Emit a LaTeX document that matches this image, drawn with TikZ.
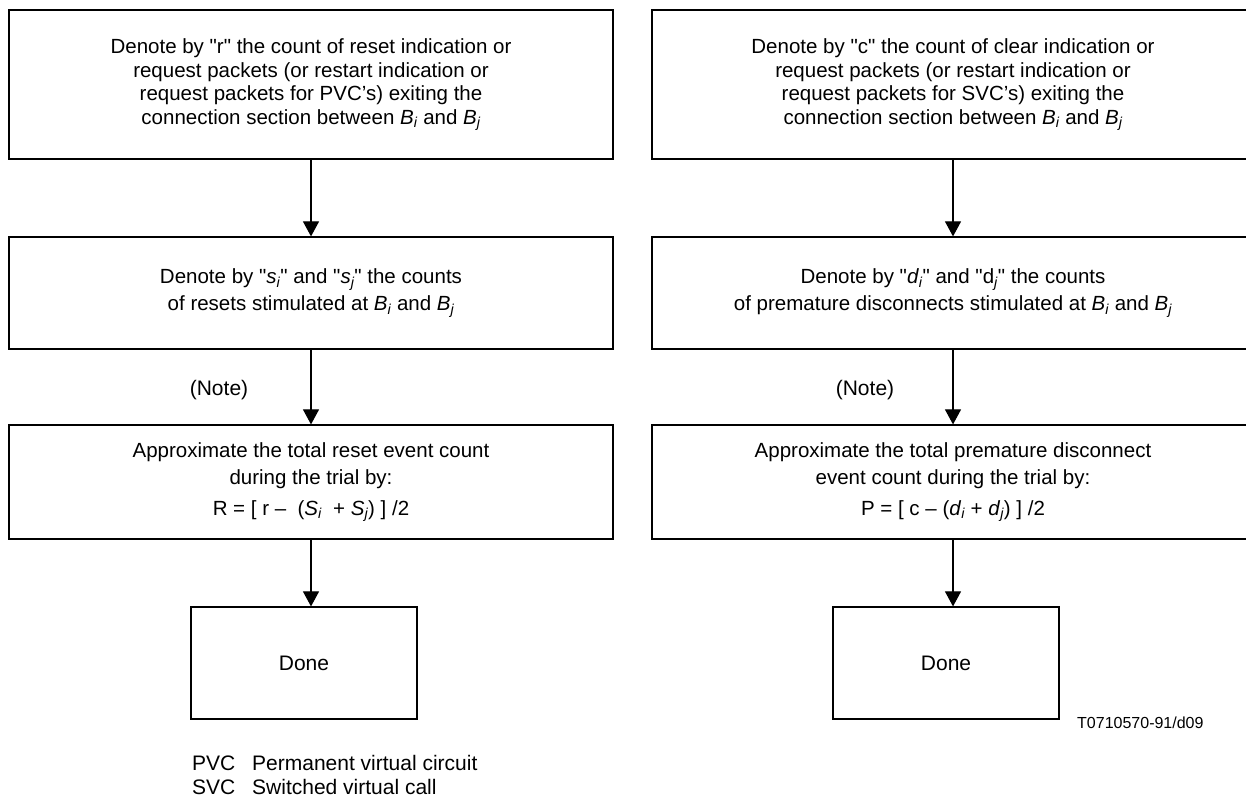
\documentclass[tikz,border=0pt]{standalone}
\usepackage{fontspec}
\setmainfont{Liberation Sans}[Ligatures=TeXOff]
\usetikzlibrary{arrows.meta}
% italic subscript in the text font
\newcommand\lsub[1]{\textsubscript{\itshape #1}}
\begin{document}
\begin{tikzpicture}[x=1pt,y=-1pt,
  box/.style={draw, line width=1.2pt, align=center, inner sep=0pt},
  flow/.style={line width=1.1pt, -{Triangle[length=15pt,width=16pt]}},
  txt/.style={font=\fontsize{20.5}{23.5}\selectfont},
  txtb/.style={font=\fontsize{20.5}{27}\selectfont},
  lbl/.style={font=\fontsize{21}{24}\selectfont, inner sep=0pt}]
\useasboundingbox (0,0) rectangle (1246,798);

% ---- left column: resets ----
\node[box, txt, minimum width=604pt, minimum height=149pt] (L1) at (311,84.5)
  {Denote by "r" the count of reset indication or\\
   request packets (or restart indication or\\
   request packets for PVC’s) exiting the\\
   connection section between \textit{B}\lsub{i} and \textit{B}\lsub{j}};
\node[box, txtb, minimum width=604pt, minimum height=112pt] (L2) at (311,293)
  {Denote by "\textit{s}\lsub{i}" and "\textit{s}\lsub{j}" the counts\\
   of resets stimulated at \textit{B}\lsub{i} and \textit{B}\lsub{j}};
\node[box, txtb, minimum width=604pt, minimum height=114pt] (L3) at (311,482)
  {Approximate the total reset event count\\
   during the trial by:\\[4pt]
   R = [ r –\ \ (\textit{S}\lsub{i} \ + \textit{S}\lsub{j}) ] /2};
\node[box, lbl, minimum width=226pt, minimum height=112pt] (LD) at (304,663) {Done};

% ---- right column: premature disconnects ----
\node[box, txt, minimum width=602pt, minimum height=149pt] (R1) at (953,84.5)
  {Denote by "c" the count of clear indication or\\
   request packets (or restart indication or\\
   request packets for SVC’s) exiting the\\
   connection section between \textit{B}\lsub{i} and \textit{B}\lsub{j}};
\node[box, txtb, minimum width=602pt, minimum height=112pt] (R2) at (953,293)
  {Denote by "\textit{d}\lsub{i}" and "d\lsub{j}" the counts\\
   of premature disconnects stimulated at \textit{B}\lsub{i} and \textit{B}\lsub{j}};
\node[box, txtb, minimum width=602pt, minimum height=114pt] (R3) at (953,482)
  {Approximate the total premature disconnect\\
   event count during the trial by:\\[4pt]
   P = [ c – (\textit{d}\lsub{i} + \textit{d}\lsub{j}) ] /2};
\node[box, lbl, minimum width=226pt, minimum height=112pt] (RD) at (946,663) {Done};

% ---- connectors ----
\draw[flow] (L1) -- (L2);
\draw[flow] (L2) -- (L3);
\draw[flow] (L3.south) -- (L3.south |- LD.north);
\draw[flow] (R1) -- (R2);
\draw[flow] (R2) -- (R3);
\draw[flow] (R3.south) -- (R3.south |- RD.north);

\node[lbl] (noteL) at (219,390) {(Note)};
\node[lbl] (noteR) at (865,390) {(Note)};

% ---- legend and figure reference ----
\node[lbl, anchor=base west] (pvc)  at (192,770) {PVC};
\node[lbl, anchor=base west] (pvcd) at (252,770) {Permanent virtual circuit};
\node[lbl, anchor=base west] (svc)  at (192,794) {SVC};
\node[lbl, anchor=base west] (svcd) at (252,794) {Switched virtual call};
\node[inner sep=0pt, anchor=base west, font=\fontsize{16}{19}\selectfont] (ref) at (1077,728) {T0710570-91/d09};
\end{tikzpicture}
\end{document}
